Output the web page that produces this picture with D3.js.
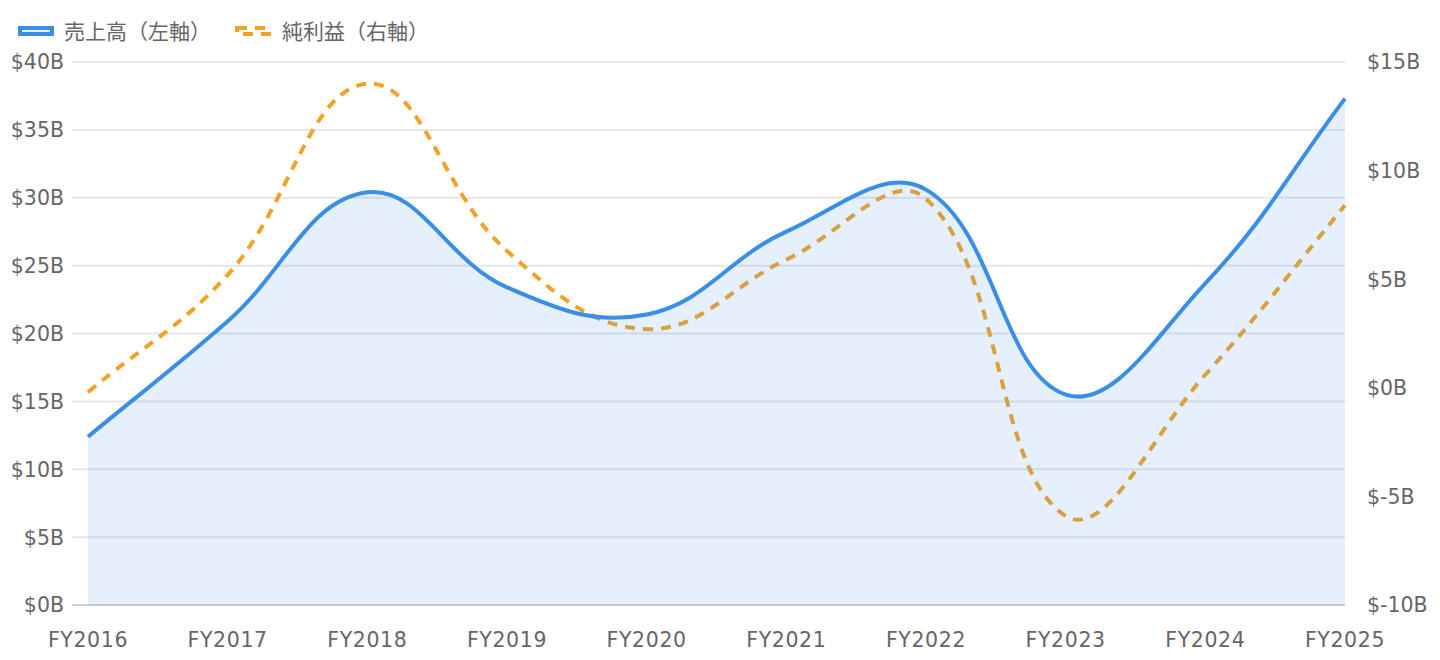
<!DOCTYPE html>
<html>
<head>
<meta charset="utf-8">
<script src="https://cdn.jsdelivr.net/npm/d3@7"></script>
<style>
  body { margin: 0; background: #fff; }
  svg text { font-family: "DejaVu Sans", "Noto Sans", sans-serif; fill: #666; }
  svg text.legend { font-family: "Noto Sans CJK JP", sans-serif; }
</style>
</head>
<body>
<svg id="chart" width="1440" height="660"></svg>
<script>
var years = ["FY2016", "FY2017", "FY2018", "FY2019", "FY2020", "FY2021", "FY2022", "FY2023", "FY2024", "FY2025"];
var revenue = [12.4, 20.9, 30.4, 23.4, 21.4, 27.5, 30.6, 15.5, 23.7, 37.3];
var net_income = [-0.2, 5.2, 14.0, 6.3, 2.7, 5.9, 8.7, -5.9, 0.6, 8.4];
var left_ticks = [0, 5, 10, 15, 20, 25, 30, 35, 40];
var right_ticks = [-10, -5, 0, 5, 10, 15];
var legend_labels = ["売上高（左軸）", "純利益（右軸）"];

var svg = d3.select("#chart");

var x = d3.scaleLinear().domain([0, years.length - 1]).range([88, 1345]);
var y_left = d3.scaleLinear().domain([0, 40]).range([605, 62]);
var y_right = d3.scaleLinear().domain([-10, 15]).range([605, 62]);

// same spline as chart.js (tension 0.4)
function spline_path(pts, tension) {
  var n = pts.length, cps = [];
  for (var i = 0; i < n; i++) {
    var p = pts[i], prev = pts[i - 1] || p, next = pts[i + 1] || p;
    var d01 = Math.hypot(p[0] - prev[0], p[1] - prev[1]);
    var d12 = Math.hypot(next[0] - p[0], next[1] - p[1]);
    var s01 = d01 / (d01 + d12), s12 = d12 / (d01 + d12);
    if (isNaN(s01)) s01 = 0;
    if (isNaN(s12)) s12 = 0;
    var fa = tension * s01, fb = tension * s12;
    cps.push({
      px: p[0] - fa * (next[0] - prev[0]), py: p[1] - fa * (next[1] - prev[1]),
      nx: p[0] + fb * (next[0] - prev[0]), ny: p[1] + fb * (next[1] - prev[1])
    });
  }
  var path = d3.path();
  path.moveTo(pts[0][0], pts[0][1]);
  for (var j = 1; j < n; j++) {
    path.bezierCurveTo(cps[j - 1].nx, cps[j - 1].ny, cps[j].px, cps[j].py, pts[j][0], pts[j][1]);
  }
  return path.toString();
}

// grid
svg.append("g").selectAll("line")
  .data(left_ticks)
  .enter()
  .append("line")
    .attr("x1", 72).attr("x2", 1345)
    .attr("y1", function(d) { return y_left(d); })
    .attr("y2", function(d) { return y_left(d); })
    .attr("stroke", function(d) { return d === 0 ? "#d0d0d0" : "#e6e6e6"; })
    .attr("stroke-width", 2);

var rev_pts = revenue.map(function(d, i) { return [x(i), y_left(d)]; });
var net_pts = net_income.map(function(d, i) { return [x(i), y_right(d)]; });

// net income line (drawn under revenue fill)
svg.append("path")
  .attr("d", spline_path(net_pts, 0.4))
  .attr("fill", "none")
  .attr("stroke", "#f2a22b")
  .attr("stroke-width", 4)
  .attr("stroke-dasharray", "10,8");

// revenue fill + line
var rev_line = spline_path(rev_pts, 0.4);
svg.append("path")
  .attr("d", rev_line + "L" + x(years.length - 1) + "," + y_left(0) + "L" + x(0) + "," + y_left(0) + "Z")
  .attr("fill", "rgba(58,142,230,0.13)");
svg.append("path")
  .attr("d", rev_line)
  .attr("fill", "none")
  .attr("stroke", "#3a8ee6")
  .attr("stroke-width", 4);

// axes labels
svg.append("g").selectAll("text")
  .data(left_ticks)
  .enter()
  .append("text")
    .attr("x", 64)
    .attr("y", function(d) { return y_left(d); })
    .attr("dy", "0.36em")
    .attr("text-anchor", "end")
    .attr("font-size", 20.5)
    .text(function(d) { return "$" + d + "B"; });

svg.append("g").selectAll("text")
  .data(right_ticks)
  .enter()
  .append("text")
    .attr("x", 1367)
    .attr("y", function(d) { return y_right(d); })
    .attr("dy", "0.36em")
    .attr("font-size", 20.5)
    .text(function(d) { return "$" + d + "B"; });

svg.append("g").selectAll("text")
  .data(years)
  .enter()
  .append("text")
    .attr("x", function(d, i) { return x(i); })
    .attr("y", 647)
    .attr("text-anchor", "middle")
    .attr("font-size", 20.5)
    .attr("letter-spacing", 0.6)
    .text(function(d) { return d; });

// legend
var leg = svg.append("g");
leg.append("rect").attr("x", 20).attr("y", 28).attr("width", 32).attr("height", 6)
  .attr("fill", "rgba(58,142,230,0.13)").attr("stroke", "#3a8ee6").attr("stroke-width", 4);
leg.append("text").attr("class", "legend").attr("x", 64).attr("y", 31).attr("dy", "0.36em")
  .attr("font-size", 21).text(legend_labels[0]);
leg.append("rect").attr("x", 237).attr("y", 28).attr("width", 32).attr("height", 6)
  .attr("fill", "none").attr("stroke", "#f2a22b").attr("stroke-width", 4)
  .attr("stroke-dasharray", "10,8");
leg.append("text").attr("class", "legend").attr("x", 282).attr("y", 31).attr("dy", "0.36em")
  .attr("font-size", 21).text(legend_labels[1]);
</script>
</body>
</html>
